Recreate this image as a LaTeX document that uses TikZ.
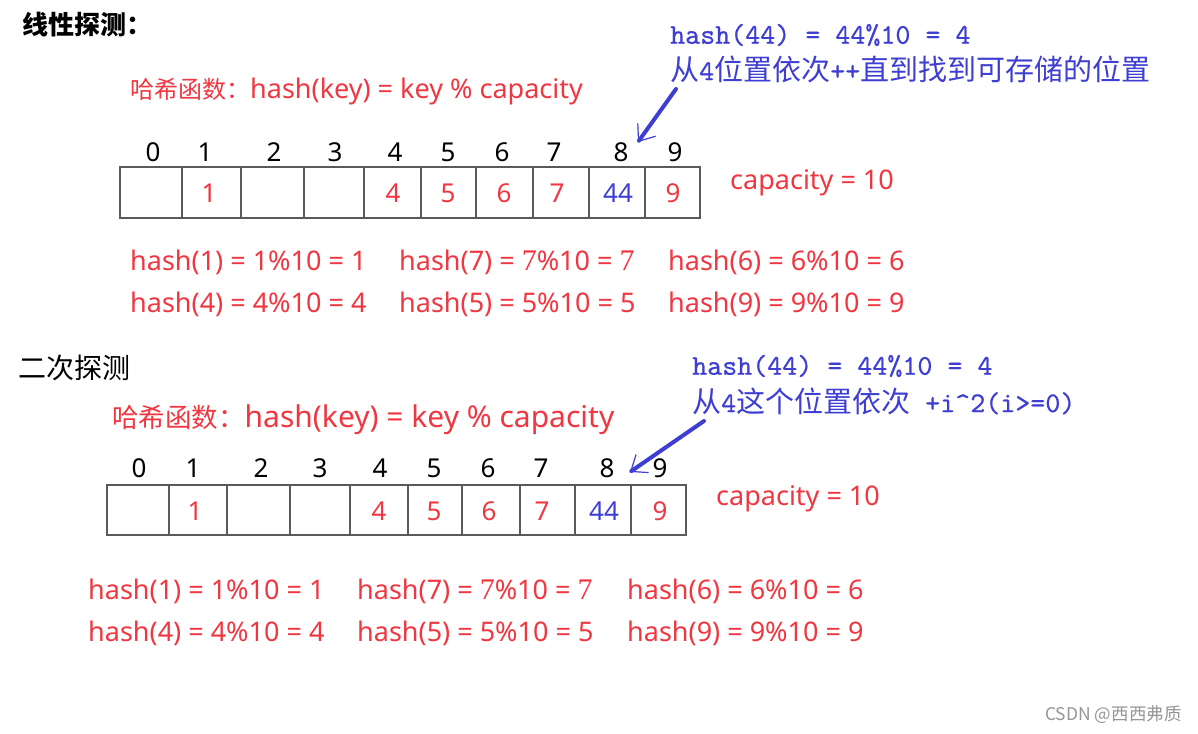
\documentclass[tikz,border=0pt]{standalone}
\usepackage{fontspec}
\setmainfont{Noto Sans}
\newfontfamily\cjk{Noto Sans CJK SC}
\newfontfamily\serifdigit{Liberation Serif}
\newfontfamily\notefont[FakeBold=0.6]{lmmono10-regular.otf}
\usetikzlibrary{arrows.meta}

\definecolor{hashred}{RGB}{240,55,65}
\definecolor{probeblue}{RGB}{62,62,210}
\definecolor{gridgray}{RGB}{90,90,90}
\definecolor{markgray}{RGB}{150,150,150}

\tikzset{
  title/.style={anchor=west, inner sep=0pt, font=\cjk\fontsize{26}{30}\selectfont},
  formula/.style={anchor=west, inner sep=0pt, text=hashred, font=\fontsize{27}{32}\selectfont},
  idx/.style={inner sep=0pt, font=\fontsize{26}{30}\selectfont},
  val/.style={inner sep=0pt, text=hashred, font=\fontsize{26}{30}\selectfont},
  note/.style={anchor=west, inner sep=0pt, text=probeblue, font=\notefont\fontsize{28.6}{32}\selectfont},
  cell/.style={draw=gridgray, line width=1.2pt},
  probe/.style={draw=probeblue, line width=4pt, line cap=round,
    -{Straight Barb[length=14pt,width=22pt,line width=1.2pt]}}
}
\newcommand{\zh}[2][23]{{\cjk\fontsize{#1}{#1}\selectfont #2}}
\newcommand{\sev}{{\serifdigit\fontsize{30}{30}\selectfont 7}}

\begin{document}
\begin{tikzpicture}[x=1pt, y=-1pt]
  \fill[white] (0,0) rectangle (1198,733);
  \useasboundingbox (0,0) rectangle (1198,733);

  % Linear probing
  \node[title, font=\cjk\bfseries\fontsize{26}{30}\selectfont] (lintitle) at (22,25) {线性探测：};
  \node[formula] (linfun) at (130,91) {\zh[24]{哈希函数：}hash(key) = key \% capacity};

  % Table
  \draw[cell] (120,167) rectangle (700,218);
  \foreach \x in {182,241,304,364,421,476,533,589,645}
    \draw[cell] (\x,167) -- (\x,218);
  \foreach \x/\k in {153/0,205/1,274/2,335/3,395/4,448/5,502/6,554/7,621/8,675/9}
    \node[idx] (li\k) at (\x,152) {\k};
  \foreach \x/\v in {209/1,393/4,448/5,504/6,557/7,673/9}
    \node[val] (lv\v) at (\x,193) {\v};
  \node[val, text=probeblue] (lv44) at (618,193) {44};
  \node[formula] (lincap) at (730,183) {capacity = 10};

  % Hash values
  \node[formula] (lh1) at (130,262) {hash(1) = 1\%10 = 1};
  \node[formula] (lh7) at (399,262) {hash(7) = \sev\%10 = \sev};
  \node[formula] (lh6) at (668,262) {hash(6) = 6\%10 = 6};
  \node[formula] (lh4) at (130,304) {hash(4) = 4\%10 = 4};
  \node[formula] (lh5) at (399,304) {hash(5) = 5\%10 = 5};
  \node[formula] (lh9) at (668,304) {hash(9) = 9\%10 = 9};

  % Note and arrow
  \node[note] (linnote) at (670,35) {hash(44) = 44\%10 = 4};
  \node[note] (linstep) at (670,69) {\zh[29]{从}4\zh[29]{位置依次}++\zh[29]{直到找到可存储的位置}};
  \coordinate (lintail) at (676,89);
  \coordinate (lintip) at (638,142);
  \draw[probe] (lintail) -- (lintip);

  % Quadratic probing
  \node[title, font=\cjk\fontsize{28}{32}\selectfont] (quadtitle) at (18,368) {二次探测};
  \node[formula, font=\fontsize{30}{34}\selectfont] (quadfun) at (112,420) {\zh[26.5]{哈希函数：}hash(key) = key \% capacity};

  % Table
  \draw[cell] (107,485) rectangle (686,535);
  \foreach \x in {169,227,290,350,408,462,520,575,631}
    \draw[cell] (\x,485) -- (\x,535);
  \foreach \x/\k in {139/0,193/1,261/2,320/3,380/4,434/5,488/6,541/7,607/8,660/9}
    \node[idx] (qi\k) at (\x,468) {\k};
  \foreach \x/\v in {195/1,379/4,434/5,489/6,542/7,660/9}
    \node[val] (qv\v) at (\x,511) {\v};
  \node[val, text=probeblue] (qv44) at (604,511) {44};
  \node[formula] (quadcap) at (716,499) {capacity = 10};

  % Hash values
  \node[formula] (qh1) at (88,591) {hash(1) = 1\%10 = 1};
  \node[formula] (qh7) at (357,591) {hash(7) = \sev\%10 = \sev};
  \node[formula] (qh6) at (627,591) {hash(6) = 6\%10 = 6};
  \node[formula] (qh4) at (88,633) {hash(4) = 4\%10 = 4};
  \node[formula] (qh5) at (357,633) {hash(5) = 5\%10 = 5};
  \node[formula] (qh9) at (627,633) {hash(9) = 9\%10 = 9};

  % Note and arrow
  \node[note] (quadnote) at (692,366) {hash(44) = 44\%10 = 4};
  \node[note] (quadstep) at (692,401) {\zh[29]{从}4\zh[29]{这个位置依次} +i\textasciicircum2(i>=0)};
  \coordinate (quadtail) at (704,421);
  \coordinate (quadtip) at (630,472);
  \draw[probe] (quadtail) -- (quadtip);

  % Watermark
  \node[anchor=west, inner sep=0pt, text=markgray, font=\cjk\fontsize{17.5}{20}\selectfont] (mark) at (1045,715) {CSDN @西西弗质};
\end{tikzpicture}
\end{document}
